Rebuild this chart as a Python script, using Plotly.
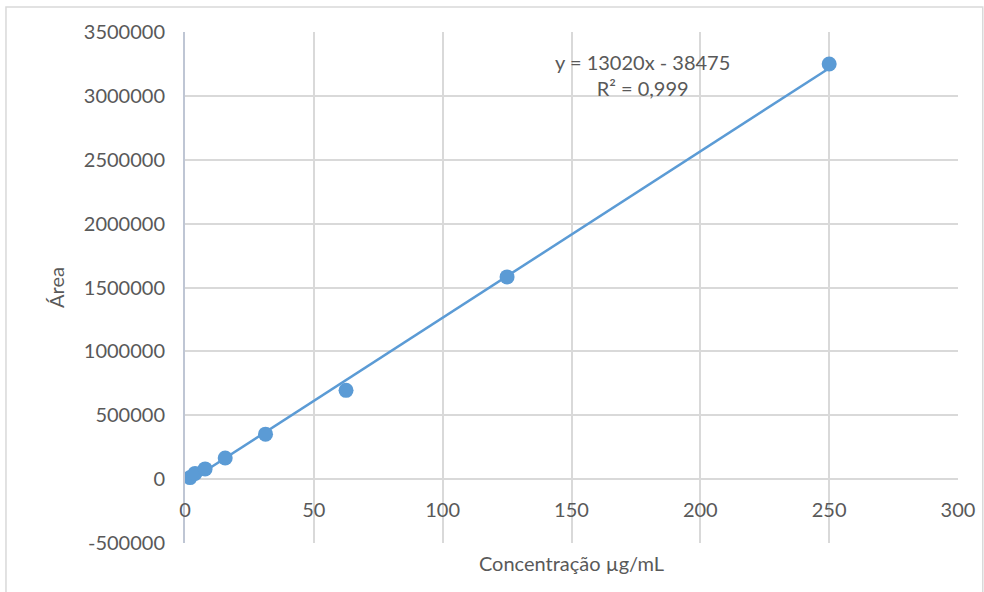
import plotly.graph_objects as go

conc = [1.95, 3.9, 7.8, 15.6, 31.25, 62.5, 125, 250]
area = [12000, 45000, 80000, 165000, 352000, 695000, 1583000, 3250000]
slope = 13020
intercept = -38475
eq_text = "y = 13020x - 38475<br>R² = 0,999"
x_ticks = [0, 50, 100, 150, 200, 250, 300]
y_ticks = [-500000, 0, 500000, 1000000, 1500000, 2000000, 2500000, 3000000, 3500000]
y_labels = ["-500000", "0", "500000", "1000000", "1500000", "2000000", "2500000", "3000000", "3500000"]

BLUE = "#5b9bd5"
TXT = "#595959"
GRID = "#d9d9d9"
FONT = "Lato"

fit_x = [min(conc), max(conc)]
fit_y = [slope * v + intercept for v in fit_x]

fig = go.Figure()
fig.add_trace(go.Scatter(x=fit_x, y=fit_y, mode="lines",
                         line=dict(color=BLUE, width=2.5), hoverinfo="skip"))
fig.add_trace(go.Scatter(x=conc, y=area, mode="markers",
                         marker=dict(color=BLUE, size=15)))

fig.add_annotation(x=177.5, y=3160000, xref="x", yref="y", text=eq_text,
                   showarrow=False, font=dict(family=FONT, size=20, color=TXT),
                   align="center")

fig.add_shape(type="rect", xref="paper", yref="paper",
              x0=-0.2316, x1=1.032, y0=-0.2, y1=1.049,
              line=dict(color="#d9d9d9", width=1.5), layer="below")

fig.update_layout(
    width=984, height=592,
    margin=dict(l=185, r=26, t=32, b=49),
    paper_bgcolor="white", plot_bgcolor="white",
    showlegend=False,
    font=dict(family=FONT, size=20, color=TXT),
    xaxis=dict(range=[0, 300], tickvals=x_ticks, showgrid=True, gridcolor=GRID,
               gridwidth=1.5, zeroline=False, showline=False, automargin=False,
               ticks="", ticklabelstandoff=-47,
               title=dict(text="Concentração µg/mL", standoff=36,
                          font=dict(family=FONT, size=20, color=TXT))),
    yaxis=dict(range=[-500000, 3500000], tickvals=y_ticks, ticktext=y_labels,
               showgrid=True, gridcolor=GRID, gridwidth=1.5, automargin=False,
               zeroline=False, showline=True, linecolor="#bfc6d4", linewidth=2,
               ticks="", ticklabelstandoff=14,
               title=dict(text="Área", standoff=14,
                          font=dict(family=FONT, size=20, color=TXT))),
)

fig.write_html("out.html")
